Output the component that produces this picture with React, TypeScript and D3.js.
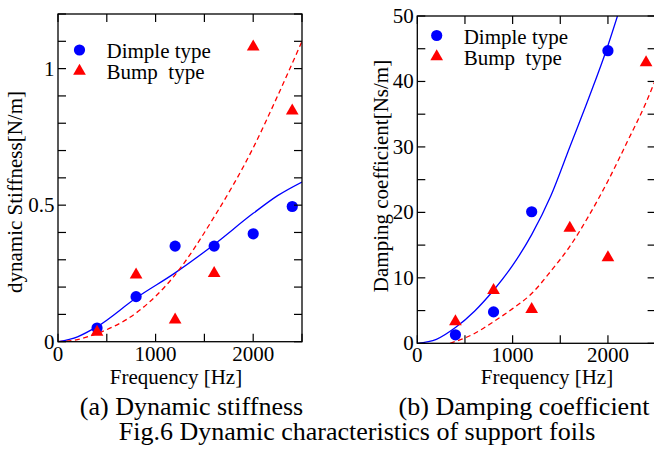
import React from "react";
import * as d3 from "d3";

// measured points (Hz)
const freqs = [400, 800, 1200, 1600, 2000, 2400];
const stiffDimple = [0.05, 0.165, 0.35, 0.35, 0.395, 0.495];
const stiffBump = [0.035, 0.245, 0.08, 0.25, 1.08, 0.845];
const dampDimpleFreqs = [400, 800, 1200, 2000];
const dampDimple = [1.3, 4.8, 20.1, 44.7];
const dampBump = [3.3, 8.1, 5.2, 17.6, 13.1, 42.9];

// fitted curves
const stiffFitFreqs = [0, 200, 400, 800, 1200, 1600, 2000, 2250, 2500];
const stiffFitDimple = [0, 0.018, 0.055, 0.16, 0.252, 0.356, 0.47, 0.535, 0.585];
const stiffFitBump = [0, 0.008, 0.03, 0.105, 0.245, 0.457, 0.71, 0.9, 1.1];
const dampFitDimpleFreqs = [0, 200, 400, 600, 800, 1000, 1200, 1400, 1600, 1800, 2000, 2100];
const dampFitDimple = [0, 0.6, 2.4, 4.9, 8.1, 11.9, 16.6, 22.5, 30, 37.5, 45.5, 50];
const dampFitBumpFreqs = [343, 600, 800, 1000, 1200, 1400, 1600, 1800, 2000, 2200, 2400, 2500];
const dampFitBump = [0, 1.5, 3.3, 5.3, 7.6, 11.0, 14.8, 19.5, 24.8, 30.7, 36.8, 40.3];

const xTickLabels = [0, 1000, 2000];
const stiffTickLabels = [0, 0.5, 1];
const dampTickLabels = [0, 10, 20, 30, 40, 50];

const legendNames = ["Dimple type", "Bump  type"];
const BLUE = "#0000ff";
const RED = "#ff0000";
const FONT = "'Liberation Serif', 'Times New Roman', serif";

function Panel(props: any) {
  const { id, x0, x1, y0, y1, yMax, yMinorStep, yTicks, yTitle, yTitleX, yTitleY,
    xTitleX, legendX, legendY, dimple, bump, fitDimple, fitBump } = props;
  const x = d3.scaleLinear().domain([0, 2500]).range([x0, x1]);
  const y = d3.scaleLinear().domain([0, yMax]).range([y1, y0]);
  const xMinor = d3.range(0, 2501, 500);
  const yMinor = d3.range(0, yMax + 1e-9, yMinorStep);
  const tl = 8;
  const line = d3.line<[number, number]>()
    .x(d => x(d[0])).y(d => y(d[1])).curve(d3.curveMonotoneX);
  const tri = d3.symbol(d3.symbolTriangle, 70)() as string;

  return (
    <g>
      <defs>
        <clipPath id={id}>
          <rect x={x0} y={y0} width={x1 - x0} height={y1 - y0} />
        </clipPath>
      </defs>
      <g clipPath={`url(#${id})`} fill="none" strokeWidth={1.3}>
        <path d={line(fitDimple) as string} stroke={BLUE} />
        <path d={line(fitBump) as string} stroke={RED} strokeDasharray="5,3.5" />
      </g>
      {dimple.map((d: number[], i: number) => (
        <circle key={"c" + i} cx={x(d[0])} cy={y(d[1])} r={5.6} fill={BLUE} />
      ))}
      {bump.map((d: number[], i: number) => (
        <path key={"t" + i} d={tri} transform={`translate(${x(d[0])},${y(d[1])})`} fill={RED} />
      ))}
      <rect x={x0} y={y0} width={x1 - x0} height={y1 - y0} fill="none" stroke="#000" strokeWidth={1.3} />
      <g stroke="#000" strokeWidth={1.2}>
        {xMinor.map(v => (
          <g key={"x" + v}>
            <line x1={x(v)} x2={x(v)} y1={y1} y2={y1 - tl} />
            <line x1={x(v)} x2={x(v)} y1={y0} y2={y0 + tl} />
          </g>
        ))}
        {yMinor.map(v => (
          <g key={"y" + v}>
            <line x1={x0} x2={x0 + tl} y1={y(v)} y2={y(v)} />
            <line x1={x1} x2={x1 - tl} y1={y(v)} y2={y(v)} />
          </g>
        ))}
      </g>
      <g fontFamily={FONT} fontSize={21} fill="#000">
        {xTickLabels.map(v => (
          <text key={"xl" + v} x={x(v)} y={y1 + 19} textAnchor="middle">{v}</text>
        ))}
        {yTicks.map((v: number) => (
          <text key={"yl" + v} x={x0 - 3.5} y={y(v) + 7} textAnchor="end">{v}</text>
        ))}
        <text x={xTitleX} y={384} textAnchor="middle">Frequency [Hz]</text>
        <text transform={`translate(${yTitleX},${yTitleY}) rotate(-90)`} textAnchor="middle">{yTitle}</text>
        {legendNames.map((name, i) => (
          <g key={name} transform={`translate(${legendX},${legendY + i * 21})`}>
            {i === 0
              ? <circle cx={0} cy={-8} r={5.6} fill={BLUE} />
              : <path d={tri} transform="translate(0,-8)" fill={RED} />}
            <text x={27} y={0} style={{ whiteSpace: "pre" }}>{name}</text>
          </g>
        ))}
      </g>
    </g>
  );
}

export default function App() {
  const zip = (a: number[], b: number[]) => a.map((v, i) => [v, b[i]] as [number, number]);
  return (
    <svg width={654} height={456} style={{ position: "absolute", left: 0, top: 0, background: "#fff" }}>
      <rect width={654} height={456} fill="#fff" />
      <Panel id="clipA" x0={58} x1={302} y0={14} y1={341.7} yMax={1.2} yMinorStep={0.1}
        yTicks={stiffTickLabels} yTitle="dynamic Stiffness[N/m]" yTitleX={22} yTitleY={192}
        xTitleX={176} legendX={79.5} legendY={58}
        dimple={zip(freqs, stiffDimple)} bump={zip(freqs, stiffBump)}
        fitDimple={zip(stiffFitFreqs, stiffFitDimple)} fitBump={zip(stiffFitFreqs, stiffFitBump)} />
      <Panel id="clipB" x0={417.3} x1={655.6} y0={16} y1={343.3} yMax={50} yMinorStep={5}
        yTicks={dampTickLabels} yTitle="Damping coefficient[Ns/m]" yTitleX={388} yTitleY={176}
        xTitleX={547} legendX={436.7} legendY={43.5}
        dimple={zip(dampDimpleFreqs, dampDimple)} bump={zip(freqs, dampBump)}
        fitDimple={zip(dampFitDimpleFreqs, dampFitDimple)} fitBump={zip(dampFitBumpFreqs, dampFitBump)} />
      <g fontFamily={FONT} fontSize={26} fill="#000">
        <text x={191.5} y={415} textAnchor="middle">(a) Dynamic stiffness</text>
        <text x={524} y={415} textAnchor="middle">(b) Damping coefficient</text>
        <text x={357} y={439.5} textAnchor="middle">Fig.6 Dynamic characteristics of support foils</text>
      </g>
    </svg>
  );
}
